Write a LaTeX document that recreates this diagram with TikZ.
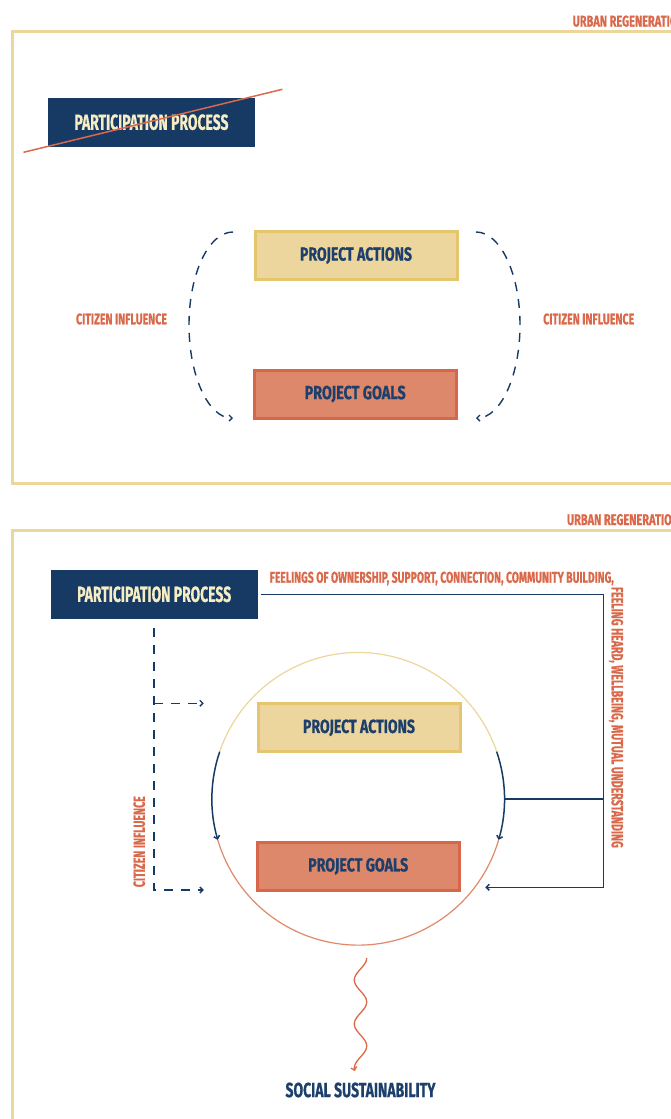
\documentclass[tikz,border=0pt]{standalone}
\usepackage{fontspec}
\newfontfamily\cond{Fira Sans}[BoldFeatures={FakeBold=0.8}]
\usetikzlibrary{arrows.meta}
\definecolor{navy}{HTML}{163A63}
\definecolor{navytext}{HTML}{1C3F6B}
\definecolor{cream}{HTML}{F6EDC4}
\definecolor{sand}{HTML}{EDD69B}
\definecolor{sandfill}{HTML}{EDD69E}
\definecolor{sandedge}{HTML}{E6C56F}
\definecolor{coral}{HTML}{DD876B}
\definecolor{coraledge}{HTML}{D6674A}
\definecolor{rust}{HTML}{D9694A}
\definecolor{ringlow}{HTML}{E08868}
% condensed caption: text squeezed to a given width and cap height
\newcommand\capfit[3]{\resizebox{#1pt}{#2pt}{#3}}

\begin{document}
\begin{tikzpicture}[x=1pt,y=-1pt,
  panel/.style={draw=sand,line width=3pt},
  ppbox/.style={fill=navy,text=cream,minimum width=207pt,minimum height=49pt,inner sep=0,
    font={\cond\bfseries}},
  actbox/.style={fill=sandfill,draw=sandedge,line width=3pt,minimum width=202pt,minimum height=48pt,
    inner sep=0,text=navytext,font={\cond\bfseries}},
  goalbox/.style={actbox,fill=coral,draw=coraledge},
  tag/.style={text=rust,inner sep=0,font={\cond\bfseries}},
  flow/.style={draw=navy,line width=1.5pt,line join=miter},
  dashflow/.style={flow,line width=1.4pt,dash pattern=on 9pt off 8pt},
  tip/.style={-{Straight Barb[length=3pt,width=6pt]}}
]
\clip (0,0) rectangle (671,1119);

% ---------- upper panel ----------
\draw[panel] (700,31) -- (12,31) -- (12,483.5) -- (700,483.5);
\node[tag,anchor=base west] (urb1) at (572.5,26.5) {\capfit{112}{11}{URBAN REGENERATION}};

\node[ppbox] (tpp) at (151.5,122.2) {\capfit{154}{15.5}{PARTICIPATION PROCESS}};
\draw[rust,line width=1.5pt] (23.5,152.3) -- (282.4,89.3);

\node[actbox] (tact) at (356,255.5) {\capfit{112}{13.5}{PROJECT ACTIONS}};
\node[goalbox] (tgoal) at (355.2,394) {\capfit{101}{13.5}{PROJECT GOALS}};

\draw[dashflow,tip] (233,232) arc[start angle=270,end angle=90,x radius=44,y radius=93];
\draw[dashflow,tip] (476,232) arc[start angle=270,end angle=450,x radius=44,y radius=93];

\node[tag] (tcil) at (121.5,319) {\capfit{91}{10.8}{CITIZEN INFLUENCE}};
\node[tag] (tcir) at (588.7,319) {\capfit{91}{10.8}{CITIZEN INFLUENCE}};

% ---------- lower panel ----------
\draw[panel] (700,530) -- (12,530) -- (12,1150);
\node[tag,anchor=base west] (urb2) at (566.8,525) {\capfit{112}{11}{URBAN REGENERATION}};

\node[ppbox] (bpp) at (154.2,594.3) {\capfit{154}{15.5}{PARTICIPATION PROCESS}};
\node[actbox] (bact) at (359,727.8) {\capfit{112}{13.5}{PROJECT ACTIONS}};
\node[goalbox] (bgoal) at (358.2,866.3) {\capfit{100}{13.5}{PROJECT GOALS}};

% ring around actions and goals
\coordinate (ring) at (358.2,798.8);
\draw[sand,line width=1.2pt] (ring) ++(198.8:146.3) arc[start angle=198.8,end angle=341.2,radius=146.3];
\draw[ringlow,line width=1.2pt] (ring) ++(16.3:146.3) arc[start angle=16.3,end angle=163.7,radius=146.3];
\draw[flow,tip] (ring) ++(198.8:146.3) arc[start angle=198.8,end angle=163.7,radius=146.3];
\draw[flow,tip] (ring) ++(341.2:146.3) arc[start angle=341.2,end angle=376.3,radius=146.3];

% feedback loop from the participation process
\coordinate (fbtop) at (603.5,594.3);
\coordinate (fbmid) at (603.5,799);
\coordinate (fbbot) at (603.5,887.3);
\coordinate (ringE) at (504.5,799);
\coordinate (goalin) at (485.3,887.3);
\draw[flow,tip] ([xshift=3pt]bpp.east) -- (fbtop) -- (fbbot) -- (goalin);
\draw[flow] (ringE) -- (fbmid);

\node[tag,anchor=base west] (feel1) at (269.6,582.7)
  {\capfit{344}{11}{FEELINGS OF OWNERSHIP, SUPPORT, CONNECTION, COMMUNITY BUILDING,}};
\node[tag,anchor=base west,rotate=-90] (feel2) at (611.7,586.7)
  {\capfit{261}{11.5}{FEELING HEARD, WELLBEING, MUTUAL UNDERSTANDING}};

% citizen influence branches
\coordinate (ciTop) at (153.9,628);
\coordinate (ciA) at (153.9,703.3);
\coordinate (ciB) at (153.9,890);
\coordinate (ciAe) at (203.8,703.3);
\coordinate (ciBe) at (203.8,890);
\draw[dashflow,tip] (ciTop) -- (ciB) -- (ciBe);
\draw[dashflow,tip] (ciA) -- (ciAe);
\node[tag,rotate=90] (bci) at (139.2,841.7) {\capfit{91}{11.5}{CITIZEN INFLUENCE}};

% outcome, reached through a wavy path from the ring
\node[text=navytext,inner sep=0,font={\cond\bfseries}] (social) at (360.5,1090) {\capfit{150}{14.6}{SOCIAL SUSTAINABILITY}};
\draw[rust,line width=1.3pt,tip] plot[smooth,domain=0:113,samples=60] ({360.5+6.2*cos(8.1818*\x)},{958+\x});

\end{tikzpicture}
\end{document}
